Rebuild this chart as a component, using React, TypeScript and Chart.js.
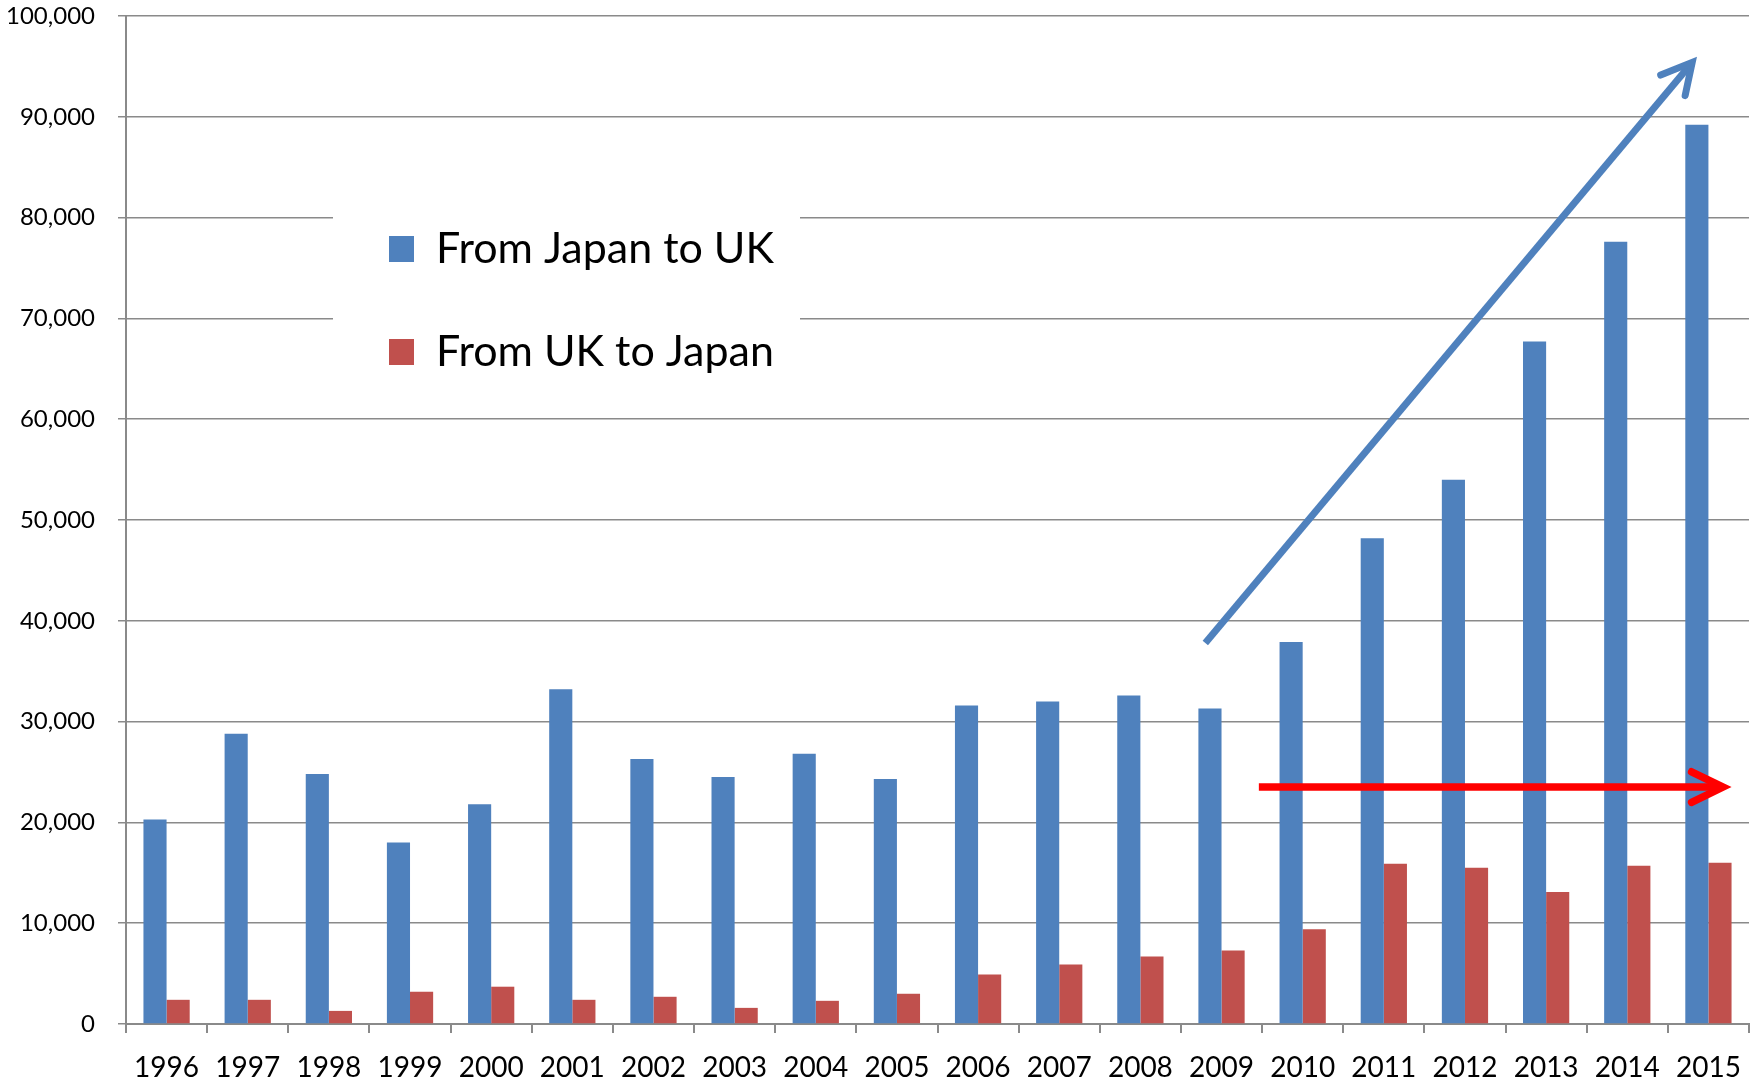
import React, { useEffect, useRef } from "react";
import { Chart, registerables } from "chart.js";

Chart.register(...registerables);

const years = [
  "1996", "1997", "1998", "1999", "2000", "2001", "2002", "2003", "2004", "2005",
  "2006", "2007", "2008", "2009", "2010", "2011", "2012", "2013", "2014", "2015",
];
const japanToUK = [
  20300, 28800, 24800, 18000, 21800, 33200, 26300, 24500, 26800, 24300,
  31600, 32000, 32600, 31300, 37900, 48200, 54000, 67700, 77600, 89200,
];
const ukToJapan = [
  2400, 2400, 1300, 3200, 3700, 2400, 2700, 1600, 2300, 3000,
  4900, 5900, 6700, 7300, 9400, 15900, 15500, 13100, 15700, 16000,
];
const seriesLabels = ["From Japan to UK", "From UK to Japan"];
const seriesColors = ["#4F81BD", "#C0504D"];
// trend arrows in data space: [categoryIndex, value]
const blueArrowFrom = [12.8, 37800];
const blueArrowTo = [18.8, 95400];
const redArrowFrom = [13.46, 23500];
const redArrowTo = [19.18, 23500];

const FONT = "Lato, 'Open Sans', sans-serif";

function drawArrow(ctx, x1, y1, x2, y2, color, width, head, deg) {
  const ang = Math.atan2(y2 - y1, x2 - x1);
  ctx.save();
  ctx.strokeStyle = color;
  ctx.lineWidth = width;
  ctx.lineCap = "butt";
  ctx.beginPath();
  ctx.moveTo(x1, y1);
  ctx.lineTo(x2 - Math.cos(ang) * 3, y2 - Math.sin(ang) * 3);
  ctx.stroke();
  ctx.lineCap = "round";
  ctx.lineJoin = "miter";
  const a = (deg * Math.PI) / 180;
  ctx.beginPath();
  ctx.moveTo(x2 - head * Math.cos(ang - a), y2 - head * Math.sin(ang - a));
  ctx.lineTo(x2, y2);
  ctx.lineTo(x2 - head * Math.cos(ang + a), y2 - head * Math.sin(ang + a));
  ctx.stroke();
  ctx.restore();
}

const overlayPlugin = {
  id: "overlay",
  beforeDatasetsDraw(chart) {
    const ctx = chart.ctx;
    const area = chart.chartArea;
    const bx = area.left + 207;
    const by = area.top + 158;
    ctx.save();
    ctx.fillStyle = "#ffffff";
    ctx.fillRect(bx, by, 467, 212);
    ctx.font = `43px ${FONT}`;
    ctx.textBaseline = "alphabetic";
    ctx.textAlign = "left";
    seriesLabels.forEach((lab, i) => {
      const y = by + 62 + i * 103;
      ctx.fillStyle = seriesColors[i];
      ctx.fillRect(bx + 56, y, 25, 26);
      ctx.fillStyle = "#000000";
      ctx.fillText(lab, bx + 103, y + 27);
    });
    ctx.restore();
  },
  afterDatasetsDraw(chart) {
    const ctx = chart.ctx;
    const xs = chart.scales.x;
    const ys = chart.scales.y;
    const px = (p) => [xs.getPixelForValue(p[0]), ys.getPixelForValue(p[1])];
    const [b1x, b1y] = px(blueArrowFrom);
    const [b2x, b2y] = px(blueArrowTo);
    drawArrow(ctx, b1x, b1y, b2x, b2y, "#4F81BD", 7, 34, 28);
    const [r1x, r1y] = px(redArrowFrom);
    const [r2x, r2y] = px(redArrowTo);
    drawArrow(ctx, r1x, r1y, r2x, r2y, "#FF0000", 7.5, 35, 26);
  },
};

export default function App() {
  const ref = useRef(null);
  useEffect(() => {
    document.body.style.margin = "0";
    const chart = new Chart(ref.current, {
      type: "bar",
      data: {
        labels: years,
        datasets: [
          {
            label: seriesLabels[0],
            data: japanToUK,
            backgroundColor: seriesColors[0],
            borderWidth: 0,
            barPercentage: 1,
            categoryPercentage: 0.57,
          },
          {
            label: seriesLabels[1],
            data: ukToJapan,
            backgroundColor: seriesColors[1],
            borderWidth: 0,
            barPercentage: 1,
            categoryPercentage: 0.57,
          },
        ],
      },
      options: {
        animation: false,
        responsive: false,
        maintainAspectRatio: false,
        layout: { padding: { left: 0, right: 3, top: 16, bottom: 0 } },
        plugins: {
          legend: { display: false },
          tooltip: { enabled: false },
        },
        scales: {
          x: {
            offset: true,
            grid: {
              offset: true,
              drawOnChartArea: false,
              drawTicks: true,
              tickLength: 9,
              color: "#8a8a8a",
              lineWidth: 2,
            },
            border: { display: true, color: "#8a8a8a", width: 2 },
            ticks: {
              font: { family: FONT, size: 28 },
              color: "#000000",
              padding: 18,
              maxRotation: 0,
              autoSkip: false,
            },
            afterFit: (s) => {
              s.height = 60;
              s.paddingLeft = 0;
              s.paddingRight = 0;
            },
          },
          y: {
            min: 0,
            max: 100000,
            grid: {
              drawOnChartArea: true,
              drawTicks: true,
              tickLength: 8,
              color: "#8a8a8a",
              lineWidth: 1.5,
            },
            border: { display: true, color: "#8a8a8a", width: 2 },
            ticks: {
              stepSize: 10000,
              font: { family: FONT, size: 24 },
              color: "#000000",
              padding: 23,
              callback: (v) => Number(v).toLocaleString("en-US"),
            },
            afterFit: (s) => {
              s.width = 126;
              s.paddingTop = 0;
              s.paddingBottom = 0;
            },
          },
        },
      },
      plugins: [overlayPlugin],
    });
    return () => chart.destroy();
  }, []);
  return (
    <div style={{ position: "absolute", left: 0, top: 0, width: 1752, height: 1084, background: "#fff" }}>
      <canvas ref={ref} width={1752} height={1084} />
    </div>
  );
}
